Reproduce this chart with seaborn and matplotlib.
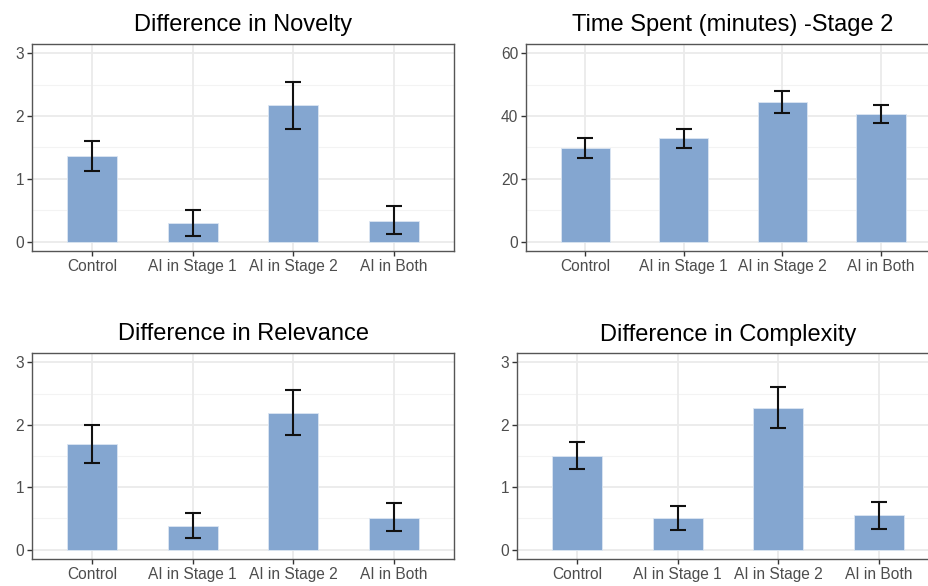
import numpy as np
import pandas as pd
import seaborn as sns
import matplotlib.pyplot as plt

# values
groups = ["Control", "AI in Stage 1", "AI in Stage 2", "AI in Both"]

novelty_mean = [1.36, 0.30, 2.17, 0.33]
novelty_lo = [1.13, 0.09, 1.79, 0.12]
novelty_hi = [1.60, 0.51, 2.55, 0.56]

time_mean = [29.8, 32.9, 44.4, 40.7]
time_lo = [26.7, 29.7, 40.9, 37.8]
time_hi = [32.9, 35.9, 48.0, 43.6]

relevance_mean = [1.69, 0.38, 2.19, 0.51]
relevance_lo = [1.39, 0.19, 1.83, 0.30]
relevance_hi = [2.00, 0.58, 2.55, 0.74]

complexity_mean = [1.50, 0.50, 2.27, 0.55]
complexity_lo = [1.29, 0.31, 1.95, 0.33]
complexity_hi = [1.73, 0.70, 2.61, 0.76]

titles = ["Difference in Novelty", "Time Spent (minutes) -Stage 2",
          "Difference in Relevance", "Difference in Complexity"]

# setting up the visual
sns.set_theme(style="white")
plt.rcParams["font.family"] = ["Liberation Sans", "DejaVu Sans"]

bar_colour = "#84A6D0"
W, H = 929, 586
fig = plt.figure(figsize=(W / 100, H / 100), dpi=100)


def px_axes(x0, y0, x1, y1):
    return fig.add_axes([x0 / W, (H - y1) / H, (x1 - x0) / W, (y1 - y0) / H])


axes = [
    px_axes(32, 44, 454, 251),
    px_axes(526, 44, 940, 251),
    px_axes(32, 353, 454, 559),
    px_axes(517, 353, 939, 559),
]

panels = [
    (novelty_mean, novelty_lo, novelty_hi, [0, 1, 2, 3], (-0.15, 3.15)),
    (time_mean, time_lo, time_hi, [0, 20, 40, 60], (-3, 63)),
    (relevance_mean, relevance_lo, relevance_hi, [0, 1, 2, 3], (-0.15, 3.15)),
    (complexity_mean, complexity_lo, complexity_hi, [0, 1, 2, 3], (-0.15, 3.15)),
]

for ax, title, (mean, lo, hi, yticks, ylim) in zip(axes, titles, panels):
    df = pd.DataFrame({"group": groups, "value": mean})
    ax.set_axisbelow(True)

    # grid like ggplot theme_bw
    step = yticks[1] - yticks[0]
    for y in yticks:
        ax.axhline(y, color="#EBEBEB", lw=1.3, zorder=0)
        ax.axhline(y + step / 2, color="#F3F3F3", lw=0.8, zorder=0)
    for x in range(len(groups)):
        ax.axvline(x, color="#EBEBEB", lw=1.3, zorder=0)

    sns.barplot(data=df, x="group", y="value", color=bar_colour, width=0.5,
                errorbar=None, saturation=1, edgecolor="#DCE6F2", linewidth=0.6,
                ax=ax, zorder=2)

    pos = np.arange(len(groups))
    m = np.array(mean)
    yerr = [m - np.array(lo), np.array(hi) - m]
    ax.errorbar(pos, m, yerr=yerr, fmt="none", ecolor="#111111", elinewidth=1.5,
                capsize=5.5, capthick=1.5, zorder=3)

    ax.set_xlim(-0.6, 3.6)
    ax.set_ylim(*ylim)
    ax.set_yticks(yticks)
    ax.set_yticklabels([str(t) for t in yticks])
    ax.set_xlabel("")
    ax.set_ylabel("")
    ax.set_title(title, fontsize=17, pad=9, color="black")
    ax.tick_params(axis="both", which="major", length=3.6, width=1.0,
                   color="#333333", labelsize=11.2, labelcolor="#4D4D4D",
                   pad=2, direction="out", bottom=True, left=True)
    for s in ax.spines.values():
        s.set_color("#555555")
        s.set_linewidth(1.0)
        s.set_visible(True)

# saving the visual
fig.savefig("out.png", dpi=100)
